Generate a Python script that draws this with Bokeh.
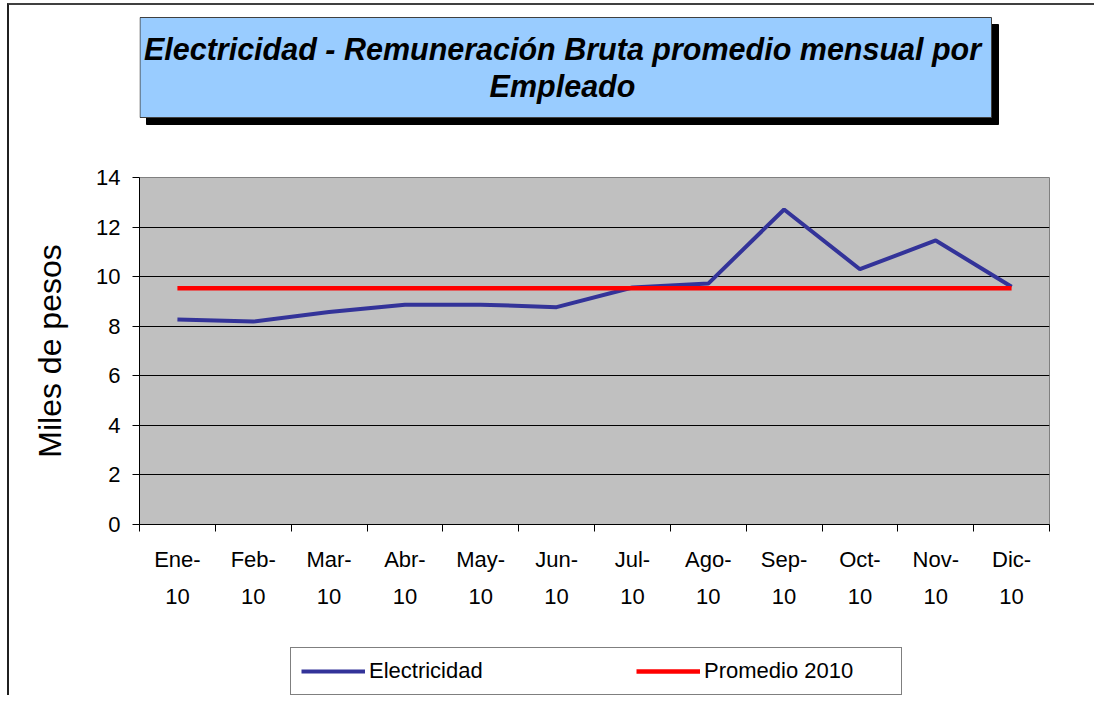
from bokeh.plotting import figure
from bokeh.layouts import column
from bokeh.models import (ColumnDataSource, FixedTicker, Legend, LegendItem,
                          Range1d, LinearAxis, InlineStyleSheet)
from bokeh.core.properties import value
from bokeh.embed import file_html
from bokeh.resources import INLINE

# ---- data ----
months_top = ["Ene-", "Feb-", "Mar-", "Abr-", "May-", "Jun-",
              "Jul-", "Ago-", "Sep-", "Oct-", "Nov-", "Dic-"]
months_bottom = ["10"] * 12
electricidad = [8.27, 8.19, 8.57, 8.87, 8.87, 8.77, 9.56, 9.72, 12.71, 10.30, 11.46, 9.59]
promedio_2010 = [9.53] * 12
y_ticks = [0, 2, 4, 6, 8, 10, 12, 14]
title_lines = ["Electricidad - Remuneración Bruta promedio mensual por", "Empleado"]
series_names = ["Electricidad", "Promedio 2010"]
y_label = "Miles de pesos"

FONT = "Liberation Sans"
W = 1094
FRAME_L, FRAME_R = 139, 1049
TITLE_H, MAIN_H, LEG_H = 160, 470, 65

n = len(months_top)
xs = [i + 0.5 for i in range(n)]
src = ColumnDataSource(dict(x=xs, elec=electricidad, prom=promedio_2010))

# ---- title panel (its frame lines up with the chart frame) ----
t = figure(width=W, height=TITLE_H, output_backend="svg", toolbar_location=None,
           x_range=Range1d(FRAME_L, FRAME_R), y_range=Range1d(TITLE_H, 0),
           x_axis_location=None, y_axis_location=None, min_border=0)
t.grid.visible = False
t.outline_line_color = None
t.background_fill_color = "white"
t.border_fill_color = "white"
t.quad(left=[146], right=[998], top=[24], bottom=[124], fill_color="black", line_color="black")
t.quad(left=[139.5], right=[991], top=[17], bottom=[117], fill_color="#99CCFF",
       line_color="#404040", line_width=1)
t.text(x=[562, 562], y=[48, 85], text=title_lines, text_align="center",
       text_baseline="alphabetic", text_font=value(FONT), text_font_size="30.5px",
       text_font_style="bold italic", text_color="black")

# ---- main chart ----
p = figure(width=W, height=MAIN_H, output_backend="svg", toolbar_location=None,
           x_range=Range1d(0, n), y_range=Range1d(0, 14),
           x_axis_location=None,
           min_border_left=FRAME_L, min_border_right=W - FRAME_R,
           min_border_top=17, min_border_bottom=MAIN_H - 17 - 347)
p.background_fill_color = "#C0C0C0"
p.border_fill_color = "white"
p.outline_line_color = "#808080"
p.xgrid.visible = False
p.ygrid.ticker = FixedTicker(ticks=y_ticks)
p.ygrid.grid_line_color = "black"
p.ygrid.grid_line_width = 1

ya = p.yaxis[0]
ya.ticker = FixedTicker(ticks=y_ticks)
ya.axis_line_color = "black"
ya.major_tick_line_color = "black"
ya.major_tick_out = 7
ya.major_tick_in = 0
ya.minor_tick_line_color = None
ya.major_label_text_font = FONT
ya.major_label_text_font_size = "22px"
ya.major_label_text_color = "black"
ya.major_label_standoff = 12
ya.axis_label = y_label
ya.axis_label_text_font = FONT
ya.axis_label_text_font_size = "32px"
ya.axis_label_text_font_style = "normal"
ya.axis_label_text_color = "black"
ya.axis_label_standoff = 25

bounds = list(range(n + 1))
xa1 = LinearAxis(ticker=FixedTicker(ticks=xs, minor_ticks=bounds),
                 major_label_overrides={x: m for x, m in zip(xs, months_top)})
xa1.axis_line_color = "black"
xa1.major_tick_out = 0
xa1.major_tick_in = 0
xa1.minor_tick_out = 7
xa1.minor_tick_in = 0
xa1.minor_tick_line_color = "black"
xa1.major_label_text_font = FONT
xa1.major_label_text_font_size = "22px"
xa1.major_label_text_color = "black"
xa1.major_label_standoff = 15
p.add_layout(xa1, "below")

xa2 = LinearAxis(ticker=FixedTicker(ticks=xs),
                 major_label_overrides={x: m for x, m in zip(xs, months_bottom)})
xa2.axis_line_color = None
xa2.major_tick_line_color = None
xa2.minor_tick_line_color = None
xa2.major_tick_out = 0
xa2.minor_tick_out = 0
xa2.major_label_text_font = FONT
xa2.major_label_text_font_size = "22px"
xa2.major_label_text_color = "black"
xa2.major_label_standoff = 14
p.add_layout(xa2, "below")

p.line("x", "elec", source=src, line_color="#333399", line_width=4)
p.line("x", "prom", source=src, line_color="#FF0000", line_width=4.5)

# ---- legend panel ----
lf = figure(width=W, height=LEG_H, output_backend="svg", toolbar_location=None,
            x_range=Range1d(0, n), y_range=Range1d(0, 14),
            x_axis_location=None, y_axis_location=None, min_border=0)
lf.grid.visible = False
lf.outline_line_color = None
lf.background_fill_color = "white"
lf.border_fill_color = "white"
k1 = lf.line("x", "elec", source=src, line_color="#333399", line_width=4, visible=False)
k2 = lf.line("x", "prom", source=src, line_color="#FF0000", line_width=4.5, visible=False)
legend = Legend(items=[LegendItem(label=series_names[0], renderers=[k1]),
                       LegendItem(label=series_names[1], renderers=[k2])],
                orientation="horizontal", location=(290 - FRAME_L, 0),
                glyph_width=64, glyph_height=24, label_standoff=4, spacing=80,
                label_width=187, padding=10, margin=0,
                label_text_font=FONT, label_text_font_size="22px",
                label_text_color="black",
                border_line_color="black", border_line_width=1,
                background_fill_color="white", background_fill_alpha=1,
                inactive_fill_alpha=0)
lf.add_layout(legend, "center")

# thin chart-area border (top and left edges, as in the reference)
frame_css = InlineStyleSheet(css="""
:host { position: relative; }
:host::before {
  content: ""; position: absolute; left: 7px; top: 3px; right: 0px; bottom: 0px;
  border-top: 2px solid #404040; border-left: 2px solid #202020;
  pointer-events: none; z-index: 10;
}
""")

layout = column(t, p, lf, spacing=0, stylesheets=[frame_css])
open("out.html", "w").write(file_html(layout, INLINE))
